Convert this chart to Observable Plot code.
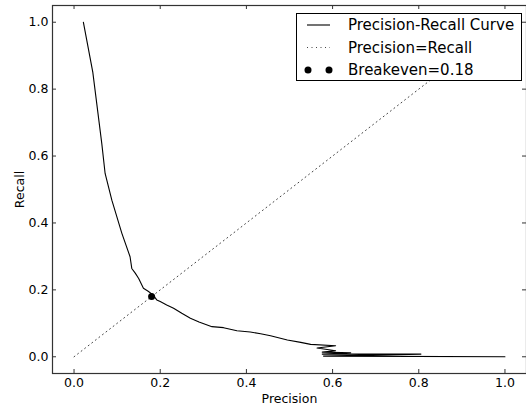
<!DOCTYPE html>
<html>
<head>
<meta charset="utf-8">
<script src="https://cdn.jsdelivr.net/npm/d3@7"></script>
<script src="https://cdn.jsdelivr.net/npm/@observablehq/plot@0.6"></script>
<style>
  html, body { margin: 0; padding: 0; background: white; }
  #wrap { position: relative; width: 526px; height: 407px; overflow: hidden; font-family: "DejaVu Sans", sans-serif; }
  #legend { position: absolute; left: 296px; top: 13px; }
</style>
</head>
<body>
<div id="wrap"><div id="chart"></div><div id="legend"></div></div>
<script>
// Precision-recall curve points (precision on x, recall on y)
const precision = [0.0216, 0.0435, 0.0644, 0.0721, 0.0877, 0.111, 0.130, 0.134, 0.142, 0.150, 0.161, 0.172, 0.183, 0.192, 0.200, 0.215, 0.231, 0.250, 0.270, 0.290, 0.320, 0.347, 0.378, 0.409, 0.433, 0.456, 0.495, 0.526, 0.549, 0.607, 0.564, 0.607, 0.576, 0.642, 0.576, 0.805, 0.579, 1.0];
const recall    = [1.0,    0.851,  0.637,  0.548,  0.468,  0.369, 0.299, 0.264, 0.250, 0.234, 0.205, 0.196, 0.185, 0.170, 0.165, 0.155, 0.145, 0.130, 0.115, 0.104, 0.090, 0.087, 0.078, 0.074, 0.069, 0.063, 0.050, 0.043, 0.037, 0.033, 0.026, 0.018, 0.014, 0.012, 0.008, 0.008, 0.002, 0.0];
const diagonal = [0, 1];
const breakeven = 0.18;
const xTicks = [0, 0.2, 0.4, 0.6, 0.8, 1.0];
const yTicks = [0, 0.2, 0.4, 0.6, 0.8, 1.0];
const legendLabels = ["Precision-Recall Curve", "Precision=Recall", "Breakeven=0.18"];

const curve = precision.map((p, i) => ({p, r: recall[i]}));

const W = 526, H = 407, mL = 52, mR = 0, mT = 5, mB = 34;
const plotH = H - mT - mB, plotW = W - mL - mR;
const spine = "#333";

const chart = Plot.plot({
  width: W, height: H,
  marginLeft: mL, marginRight: mR, marginTop: mT, marginBottom: mB,
  x: {domain: [-0.05, 1.05]},
  y: {domain: [-0.05, 1.05]},
  style: {fontFamily: "DejaVu Sans", fontSize: "12.5px", color: "black", background: "white"},
  marks: [
    Plot.line(diagonal, {x: d => d, y: d => d, stroke: "#444", strokeWidth: 1, strokeDasharray: "1,3.5"}),
    Plot.line(curve, {x: "p", y: "r", stroke: "black", strokeWidth: 1.1}),
    Plot.dot([breakeven], {x: d => d, y: d => d, r: 3.5, fill: "black"}),
    Plot.tickX(xTicks, {x: d => d, insetTop: plotH - 4, stroke: spine}),
    Plot.tickX(xTicks, {x: d => d, insetBottom: plotH - 4, stroke: spine}),
    Plot.tickY(yTicks, {y: d => d, insetRight: plotW - 4, stroke: spine}),
    Plot.tickY(yTicks, {y: d => d, insetLeft: plotW - 4, stroke: spine}),
    Plot.frame({stroke: spine, strokeWidth: 1.2}),
    Plot.axisX(xTicks, {tickSize: 0, tickPadding: 5, tickFormat: d3.format(".1f"), label: "Precision", labelAnchor: "center", labelOffset: 29, labelArrow: "none"}),
    Plot.axisY(yTicks, {tickSize: 0, tickPadding: 4, tickFormat: d3.format(".1f"), label: "Recall", labelAnchor: "center", labelOffset: 37, labelArrow: "none"})
  ]
});
document.getElementById("chart").appendChild(chart);

// Legend (drawn over the plot with opaque background)
const lw = 225, lh = 67;
const lsvg = d3.select("#legend").append("svg").attr("width", lw + 1).attr("height", lh + 1);
lsvg.append("rect").attr("x", 0.5).attr("y", 0.5).attr("width", lw).attr("height", lh)
  .attr("fill", "white").attr("stroke", "black").attr("stroke-width", 1);
const rows = [12, 34.5, 57];
lsvg.append("line").attr("x1", 11).attr("x2", 34).attr("y1", rows[0]).attr("y2", rows[0]).attr("stroke", "black").attr("stroke-width", 1.1);
lsvg.append("line").attr("x1", 11).attr("x2", 34).attr("y1", rows[1]).attr("y2", rows[1]).attr("stroke", "#444").attr("stroke-width", 1).attr("stroke-dasharray", "1,3.5");
[12, 33].forEach(cx => lsvg.append("circle").attr("cx", cx).attr("cy", rows[2]).attr("r", 3.5).attr("fill", "black"));
legendLabels.forEach((t, i) => {
  lsvg.append("text").attr("x", 52).attr("y", rows[i]).attr("dy", "0.35em")
    .attr("font-family", "DejaVu Sans").attr("font-size", 15).attr("fill", "black").text(t);
});
</script>
</body>
</html>
